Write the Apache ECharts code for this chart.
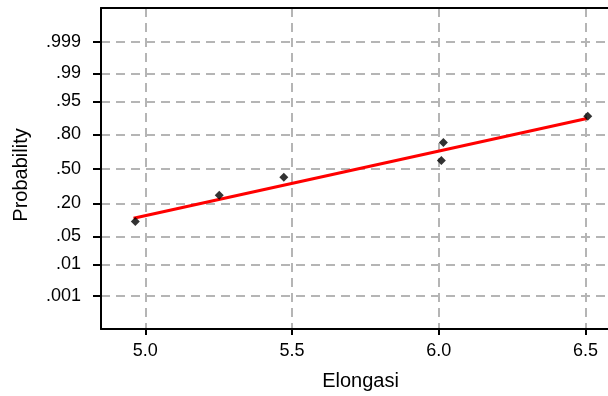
<!DOCTYPE html>
<html>
<head>
<meta charset="utf-8">
<script src="https://cdn.jsdelivr.net/npm/echarts@6/dist/echarts.min.js"></script>
<style>html,body{margin:0;padding:0;background:#fff}#c{width:608px;height:396px}</style>
</head>
<body>
<div id="c"></div>
<script>
// Data
var elongasi = [4.966, 5.252, 5.472, 6.009, 6.016, 6.508];
var probability = [0.100, 0.260, 0.420, 0.580, 0.740, 0.900];
var fitX = [4.96, 6.505];
var fitProb = [0.115, 0.890];
var probTickValues = [0.001, 0.01, 0.05, 0.20, 0.50, 0.80, 0.95, 0.99, 0.999];
var probTickLabels = ['.001', '.01', '.05', '.20', '.50', '.80', '.95', '.99', '.999'];
var xTickValues = [5.0, 5.5, 6.0, 6.5];
var xTickLabels = ['5.0', '5.5', '6.0', '6.5'];

// inverse standard normal (probability scale transform)
function invNorm(p) {
  var a = [-3.969683028665376e+01, 2.209460984245205e+02, -2.759285104469687e+02, 1.383577518672690e+02, -3.066479806614716e+01, 2.506628277459239e+00];
  var b = [-5.447609879822406e+01, 1.615858368580409e+02, -1.556989798598866e+02, 6.680131188771972e+01, -1.328068155288572e+01];
  var c = [-7.784894002430293e-03, -3.223964580411365e-01, -2.400758277161838e+00, -2.549732539343734e+00, 4.374664141464968e+00, 2.938163982698783e+00];
  var d = [7.784695709041462e-03, 3.224671290700398e-01, 2.445134137142996e+00, 3.754408661907416e+00];
  var pl = 0.02425, q, r;
  if (p < pl) { q = Math.sqrt(-2 * Math.log(p)); return (((((c[0]*q+c[1])*q+c[2])*q+c[3])*q+c[4])*q+c[5]) / ((((d[0]*q+d[1])*q+d[2])*q+d[3])*q+1); }
  if (p > 1 - pl) { q = Math.sqrt(-2 * Math.log(1 - p)); return -(((((c[0]*q+c[1])*q+c[2])*q+c[3])*q+c[4])*q+c[5]) / ((((d[0]*q+d[1])*q+d[2])*q+d[3])*q+1); }
  q = p - 0.5; r = q * q;
  return (((((a[0]*r+a[1])*r+a[2])*r+a[3])*r+a[4])*r+a[5])*q / (((((b[0]*r+b[1])*r+b[2])*r+b[3])*r+b[4])*r+1);
}

var zTicks = probTickValues.map(invNorm);
function labelFor(v, vals, labs) {
  var best = 0, bd = Infinity;
  for (var i = 0; i < vals.length; i++) { var dd = Math.abs(vals[i] - v); if (dd < bd) { bd = dd; best = i; } }
  return labs[best];
}

var pts = elongasi.map(function (x, i) { return [x, invNorm(probability[i])]; });
var fit = fitX.map(function (x, i) { return [x, invNorm(fitProb[i])]; });

var font = '"Liberation Sans", Arial, sans-serif';
var gridLine = { show: true, lineStyle: { color: '#b5b5b5', width: 2, type: [9, 6] } };
var chart = echarts.init(document.getElementById('c'), null, { renderer: 'canvas' });
chart.setOption({
  animation: false,
  backgroundColor: '#fff',
  grid: { left: 101, right: 0, top: 8, bottom: 67, containLabel: false },
  xAxis: [{
    type: 'value', min: 4.849, max: 6.577,
    axisLine: { show: true, onZero: false, lineStyle: { color: '#000', width: 2 } },
    axisTick: { show: true, length: 6, customValues: xTickValues, lineStyle: { color: '#000', width: 2 } },
    axisLabel: { customValues: xTickValues, margin: 13, color: '#000', fontSize: 18, fontFamily: font,
      formatter: function (v) { return labelFor(v, xTickValues, xTickLabels); } },
    splitLine: gridLine
  }, {
    type: 'value', position: 'top', min: 4.849, max: 6.577,
    axisLine: { show: true, onZero: false, lineStyle: { color: '#000', width: 2 } },
    axisTick: { show: false }, axisLabel: { show: false }, splitLine: { show: false }
  }],
  yAxis: {
    type: 'value', min: -3.9, max: 3.92,
    axisLine: { show: true, onZero: false, lineStyle: { color: '#000', width: 2 } },
    axisTick: { show: true, length: 8, customValues: zTicks, lineStyle: { color: '#000', width: 2 } },
    axisLabel: { customValues: zTicks, margin: 20, color: '#000', fontSize: 18, fontFamily: font,
      formatter: function (v) { return labelFor(v, zTicks, probTickLabels); } },
    splitLine: gridLine
  },
  graphic: [
    { type: 'text', x: 21, y: 175, rotation: Math.PI / 2, style: { text: 'Probability', font: '20px ' + font, fill: '#000', align: 'center', verticalAlign: 'middle' } },
    { type: 'text', x: 360.5, y: 381, style: { text: 'Elongasi', font: '20px ' + font, fill: '#000', align: 'center', verticalAlign: 'middle' } }
  ],
  series: [{
    type: 'line', data: fit, showSymbol: false, symbol: 'none',
    lineStyle: { color: '#ff0000', width: 3 }, z: 3
  }, {
    type: 'scatter', data: pts, symbol: 'diamond', symbolSize: 9,
    itemStyle: { color: '#000' }, z: 4
  }]
});
</script>
</body>
</html>
